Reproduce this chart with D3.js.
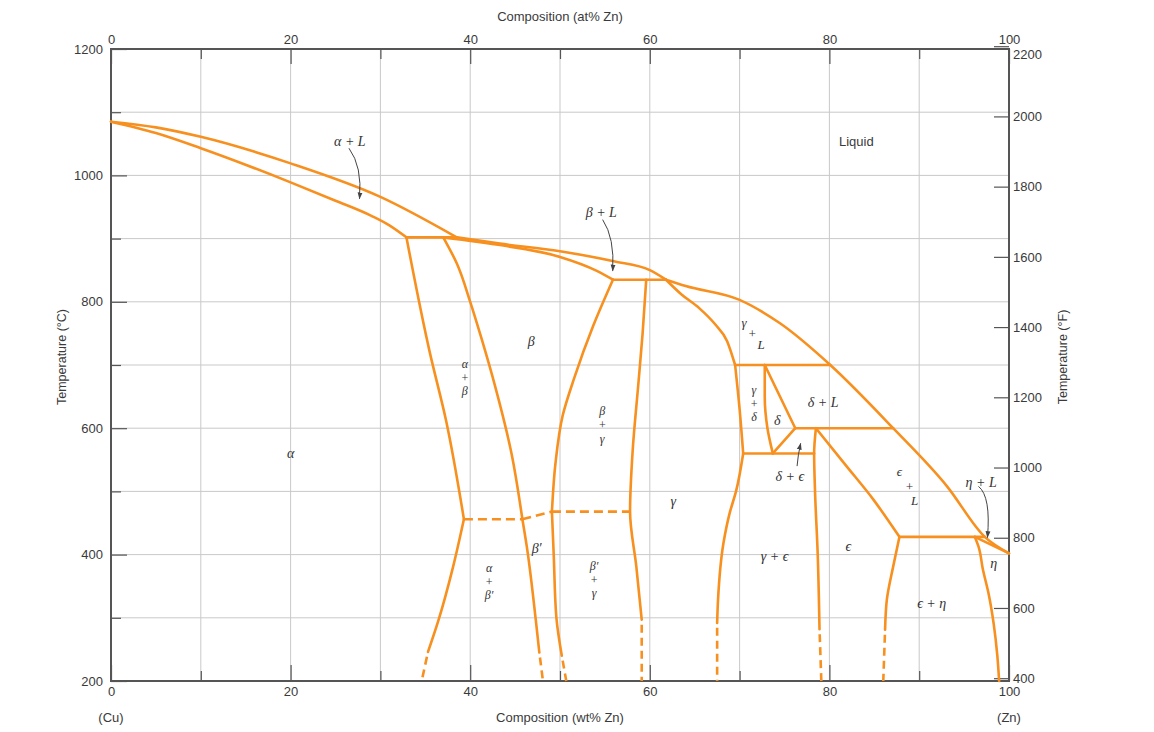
<!DOCTYPE html>
<html><head><meta charset="utf-8">
<script src="https://cdn.jsdelivr.net/npm/d3@7"></script>
<style>body{margin:0;background:#fff}svg{display:block}</style>
</head><body><svg id="chart" width="1154" height="732"></svg>
<script>
// ---------- axis ticks ----------
const wtTicks = [0,10,20,30,40,50,60,70,80,90,100];
const wtLabels = [0,20,40,60,80,100];
const atLabels = [0,20,40,60,80,100];
const cTicks = [200,300,400,500,600,700,800,900,1000,1100,1200];
const cLabels = [200,400,600,800,1000,1200];
const fLabels = [400,600,800,1000,1200,1400,1600,1800,2000,2200];

// ---------- phase boundaries [wt% Zn, °C] : functions of composition ----------
const alphaLiquidus = [[0,1085],[5,1076],[10,1061],[20,1019],[30,966],[38.5,902]];
const alphaSolidus = [[0,1085],[5,1067],[10,1043],[20,989],[25,960],[29,936],[31,921],[32.9,902]];
const betaLiquidus = [[38.5,902],[43.3,892],[50,880],[56,864],[60,850],[61.8,835]];
const betaSolidus = [[37.0,902],[43.7,889],[50,871],[54.1,849],[55.9,835]];
const gammaSolidus = [[61.8,835],[63.5,812],[65.5,790],[67.3,764],[68.6,738],[69.5,700]];
const upperLiquidus = [[61.8,835],[64,825],[70.0,803],[74.5,766],[80.1,700],[87.1,600],[93.1,508],[97.3,428],[100,402]];
const epsilonSolidus = [[78.5,600],[81.9,540],[84.9,487],[87.8,428]];

// ---------- phase boundaries : functions of temperature (near-vertical) ----------
const alphaSolvusHigh = [[32.9,902],[35.5,720],[37.3,613],[39.3,456]];
const alphaSolvusLow = [[39.3,456],[38.1,381],[36.4,293],[35.3,246]];
const betaLeftHigh = [[37.0,902],[38.5,861],[40.0,800],[41.3,740],[42.8,665],[44.6,560],[45.8,457]];
const betaPrimeLeft = [[45.8,457],[46.3,413],[47.3,297],[47.7,245]];
const betaRightHigh = [[55.9,835],[53.7,762],[51.6,680],[50.3,620],[49.5,545],[49.1,468]];
const betaPrimeRight = [[49.1,468],[49.3,400],[49.6,300],[50.2,240]];
const gammaLeft = [[59.6,835],[59.2,750],[58.7,666],[58.1,566],[57.8,468],[58.5,381],[59.1,297]];
const gammaDeltaLeft = [[69.5,700],[70.0,630],[70.4,560]];
const deltaLeft = [[72.8,700],[72.8,650],[73.1,600],[73.7,560]];
const epsilonLeft = [[78.5,600],[78.3,560],[78.4,500],[78.7,400],[78.9,282]];
const epsilonRight = [[87.8,428],[87.1,381],[86.4,329],[86.2,281]];
const gammaRight = [[70.4,560],[69.6,500],[68.9,466],[68.2,418],[67.6,329],[67.5,292]];
const etaSolvus = [[96.2,428],[96.6,413],[97.1,376],[97.7,340],[98.3,290],[98.7,240],[98.9,200]];

// ---------- straight boundaries ----------
const peritectic902 = [[32.9,902],[38.5,902]];
const peritectic835 = [[55.9,835],[61.8,835]];
const peritectic700 = [[69.5,700],[80.1,700]];
const deltaTop = [[72.8,700],[76.2,600]];
const deltaBottom = [[76.2,600],[73.7,560]];
const peritectic600 = [[76.2,600],[87.1,600]];
const eutectoid560 = [[70.4,560],[78.3,560]];
const peritectic428 = [[87.8,428],[97.3,428]];
const etaSolidus = [[96.2,428],[100,402]];

// ---------- dashed (uncertain) boundaries ----------
const orderLine1 = [[39.3,456],[45.8,456]];
const orderLine2 = [[45.8,456],[49.1,468]];
const orderLine3 = [[49.1,468],[57.8,468]];
const alphaSolvusTail = [[35.3,246],[34.6,200]];
const betaPrimeLeftTail = [[47.7,245],[48.1,200]];
const betaPrimeRightTail = [[50.2,240],[50.7,200]];
const gammaLeftTail = [[59.1,297],[59.1,200]];
const gammaRightTail = [[67.5,292],[67.5,200]];
const epsilonLeftTail = [[78.9,282],[79.1,200]];
const epsilonRightTail = [[86.2,281],[86.0,200]];

const xCurves = [alphaLiquidus, alphaSolidus, betaLiquidus, betaSolidus, gammaSolidus, upperLiquidus, epsilonSolidus];
const yCurves = [alphaSolvusHigh, alphaSolvusLow, betaLeftHigh, betaPrimeLeft, betaRightHigh, betaPrimeRight, gammaLeft,
  gammaDeltaLeft, deltaLeft, epsilonLeft, epsilonRight, gammaRight, etaSolvus];
const straightLines = [peritectic902, peritectic835, peritectic700, deltaTop, deltaBottom, peritectic600,
  eutectoid560, peritectic428, etaSolidus];
const dashedHoriz = [orderLine1, orderLine2, orderLine3];
const dashedTails = [alphaSolvusTail, betaPrimeLeftTail, betaPrimeRightTail, gammaLeftTail, gammaRightTail,
  epsilonLeftTail, epsilonRightTail];

// ---------- region labels [text, wt%, °C]  ("\n" stacks lines) ----------
const regionLabels = [
  ["α + L",26.6,1054],["β + L",54.6,942],
  ["β",46.8,738],
  ["α\n+\nβ",39.4,680],
  ["δ + L",79.3,642],
  ["γ\n+\nδ",71.6,639],
  ["δ",74.2,613],
  ["β\n+\nγ",54.7,605],
  ["α",20.0,561],
  ["δ + ϵ",75.6,525],
  ["η + L",96.9,515],
  ["γ",62.6,485],
  ["β′",47.4,411],
  ["ϵ",82.1,413],
  ["γ + ϵ",73.9,398],
  ["η",98.3,387],
  ["α\n+\nβ′",42.1,357],
  ["β′\n+\nγ",53.8,360],
  ["ϵ + η",91.4,324]
];
// diagonal labels: each glyph placed separately
const diagLabels = [
  ["γ",70.5,768],["+",71.4,750],["L",72.4,733],
  ["ϵ",87.8,531],["+",88.9,507],["L",89.5,486]
];
const liquidLabel = ["Liquid",83.0,1054];

// ---------- leader arrows: start, control, end [wt%, °C] ----------
const arrows = [
  [[26.5,1043],[28.0,1014],[27.67,963]],
  [[54.75,930],[56.1,901],[55.87,849]],
  [[76.4,540],[76.5,558],[76.8,576]],
  [[96.6,508],[98.0,492],[97.6,427]]
];

// ---------- drawing ----------
const svg = d3.select("#chart");
const L = 111, R = 1009, T = 49, B = 681;
const x = d3.scaleLinear([0,100],[L,R]);
const y = d3.scaleLinear([200,1200],[B,T]);
const yF = d3.scaleLinear([200*1.8+32,1200*1.8+32],[B,T]);
const sans = "'Liberation Sans', Arial, sans-serif";
const serif = "'Liberation Serif', 'Times New Roman', serif";
const axisColor = "#555";
const textColor = "#3a3a3a";
const orange = "#f7901e";

svg.append("rect").attr("width",1154).attr("height",732).attr("fill","#fff");

// grid
const grid = svg.append("g").attr("stroke","#c9c9c9").attr("stroke-width",1);
grid.selectAll(".v").data(wtTicks.filter(d=>d>0&&d<100)).join("line")
  .attr("x1",d=>x(d)).attr("x2",d=>x(d)).attr("y1",T).attr("y2",B);
grid.selectAll(".h").data(cTicks.filter(d=>d>200&&d<1200)).join("line")
  .attr("x1",L).attr("x2",R).attr("y1",d=>y(d)).attr("y2",d=>y(d));

function styleAxis(g){
  g.select(".domain").remove();
  g.selectAll(".tick line").attr("stroke",axisColor).attr("stroke-width",1.2);
  g.selectAll(".tick text").attr("fill",textColor).style("font-family",sans).style("font-size","13px");
}
const minorW = wtTicks.filter(d=>!wtLabels.includes(d));
const minorC = cTicks.filter(d=>!cLabels.includes(d));

svg.append("g").attr("transform",`translate(${L},0)`)
  .call(d3.axisLeft(y).tickValues(minorC).tickSize(-10).tickFormat("")).call(styleAxis);
svg.append("g").attr("transform",`translate(${L},0)`)
  .call(d3.axisLeft(y).tickValues(cLabels).tickSize(-16).tickPadding(8).tickFormat(d3.format("d"))).call(styleAxis);
svg.append("g").attr("transform",`translate(0,${B})`)
  .call(d3.axisBottom(x).tickValues(minorW).tickSize(-10).tickFormat("")).call(styleAxis);
svg.append("g").attr("transform",`translate(0,${B})`)
  .call(d3.axisBottom(x).tickValues(wtLabels).tickSize(-16).tickPadding(6).tickFormat(d3.format("d"))).call(styleAxis);
svg.append("g").attr("transform",`translate(0,${T})`)
  .call(d3.axisTop(x).tickValues(minorW).tickSize(-10).tickFormat("")).call(styleAxis);
svg.append("g").attr("transform",`translate(0,${T})`)
  .call(d3.axisTop(x).tickValues(atLabels).tickSize(-15).tickPadding(5).tickFormat(d3.format("d"))).call(styleAxis);
const rAxis = svg.append("g").attr("transform",`translate(${R},0)`)
  .call(d3.axisRight(yF).tickValues(fLabels).tickSize(-15).tickPadding(4).tickFormat(d3.format("d"))).call(styleAxis);
rAxis.selectAll(".tick text").filter(d=>d===fLabels[fLabels.length-1]).attr("dy","0.95em");

// frame
svg.append("rect").attr("x",L).attr("y",T).attr("width",R-L).attr("height",B-T)
  .attr("fill","none").attr("stroke",axisColor).attr("stroke-width",2);

// titles
function txt(s,px,py,opts={}){
  const t = svg.append("text").attr("x",px).attr("y",py).text(s)
    .attr("fill",textColor).attr("text-anchor","middle").attr("dominant-baseline","central")
    .style("font-family",sans).style("font-size",(opts.size||13)+"px");
  if(opts.rotate) t.attr("transform",`rotate(-90,${px},${py})`);
  return t;
}
txt("Composition (at% Zn)",(L+R)/2,16);
txt("Composition (wt% Zn)",(L+R)/2,717);
txt("(Cu)",x(0),717);
txt("(Zn)",x(100),717);
txt("Temperature (°C)",62,357,{rotate:true,size:12.5});
txt("Temperature (°F)",1063,357,{rotate:true,size:12.5});

// boundaries
const px = d=>x(d[0]), py = d=>y(d[1]);
const lineX = d3.line().x(px).y(py).curve(d3.curveMonotoneX);
const lineY = d3.line().x(px).y(py).curve(d3.curveMonotoneY);
const lineS = d3.line().x(px).y(py);
const curves = svg.append("g").attr("fill","none").attr("stroke",orange)
  .attr("stroke-width",2.6).attr("stroke-linejoin","round");
curves.selectAll(".cx").data(xCurves).join("path").attr("class","cx").attr("d",lineX).attr("stroke-linecap","round");
curves.selectAll(".cy").data(yCurves).join("path").attr("class","cy").attr("d",lineY).attr("stroke-linecap","round");
curves.selectAll(".cs").data(straightLines).join("path").attr("class","cs").attr("d",lineS).attr("stroke-linecap","round");
curves.selectAll(".dh").data(dashedHoriz).join("path").attr("class","dh").attr("d",lineS).attr("stroke-dasharray","9,5");
curves.selectAll(".dt").data(dashedTails).join("path").attr("class","dt").attr("d",lineS).attr("stroke-dasharray","0,5,8,5,8,5,8,5,8,5,8");

// arrows
const defs = svg.append("defs");
defs.append("marker").attr("id","ah").attr("viewBox","0 0 10 10").attr("refX",9).attr("refY",5)
  .attr("markerWidth",7).attr("markerHeight",7).attr("orient","auto")
  .append("path").attr("d","M0,1.5 L10,5 L0,8.5 Z").attr("fill","#444");
svg.append("g").selectAll("path").data(arrows).join("path")
  .attr("d",a=>{const p=d3.path();p.moveTo(x(a[0][0]),y(a[0][1]));
    p.quadraticCurveTo(x(a[1][0]),y(a[1][1]),x(a[2][0]),y(a[2][1]));return p.toString();})
  .attr("fill","none").attr("stroke","#444").attr("stroke-width",1).attr("marker-end","url(#ah)");

// region labels
const lab = svg.append("g").attr("fill","#333").attr("text-anchor","middle")
  .style("font-family",serif).style("font-style","italic").style("font-size","14px");
lab.selectAll("text.r").data(regionLabels).join("text").attr("class","r")
  .each(function(d){
    const lines = d[0].split("\n");
    const stacked = lines.length > 1, lh = 13.6;
    const t = d3.select(this).attr("x",x(d[1])).attr("y",y(d[2])).attr("dominant-baseline","central");
    if(stacked) t.style("font-size","12px");
    lines.forEach((s,i)=>{
      t.append("tspan").attr("x",x(d[1])).attr("dy", i===0 ? (-(lines.length-1)/2*lh)+"px" : lh+"px").text(s);
    });
  });
lab.selectAll("text.dg").data(diagLabels).join("text").attr("class","dg")
  .attr("x",d=>x(d[1])).attr("y",d=>y(d[2])).attr("dominant-baseline","central")
  .style("font-size","13px").text(d=>d[0]);
txt(liquidLabel[0],x(liquidLabel[1]),y(liquidLabel[2]),{size:13});
</script></body></html>
